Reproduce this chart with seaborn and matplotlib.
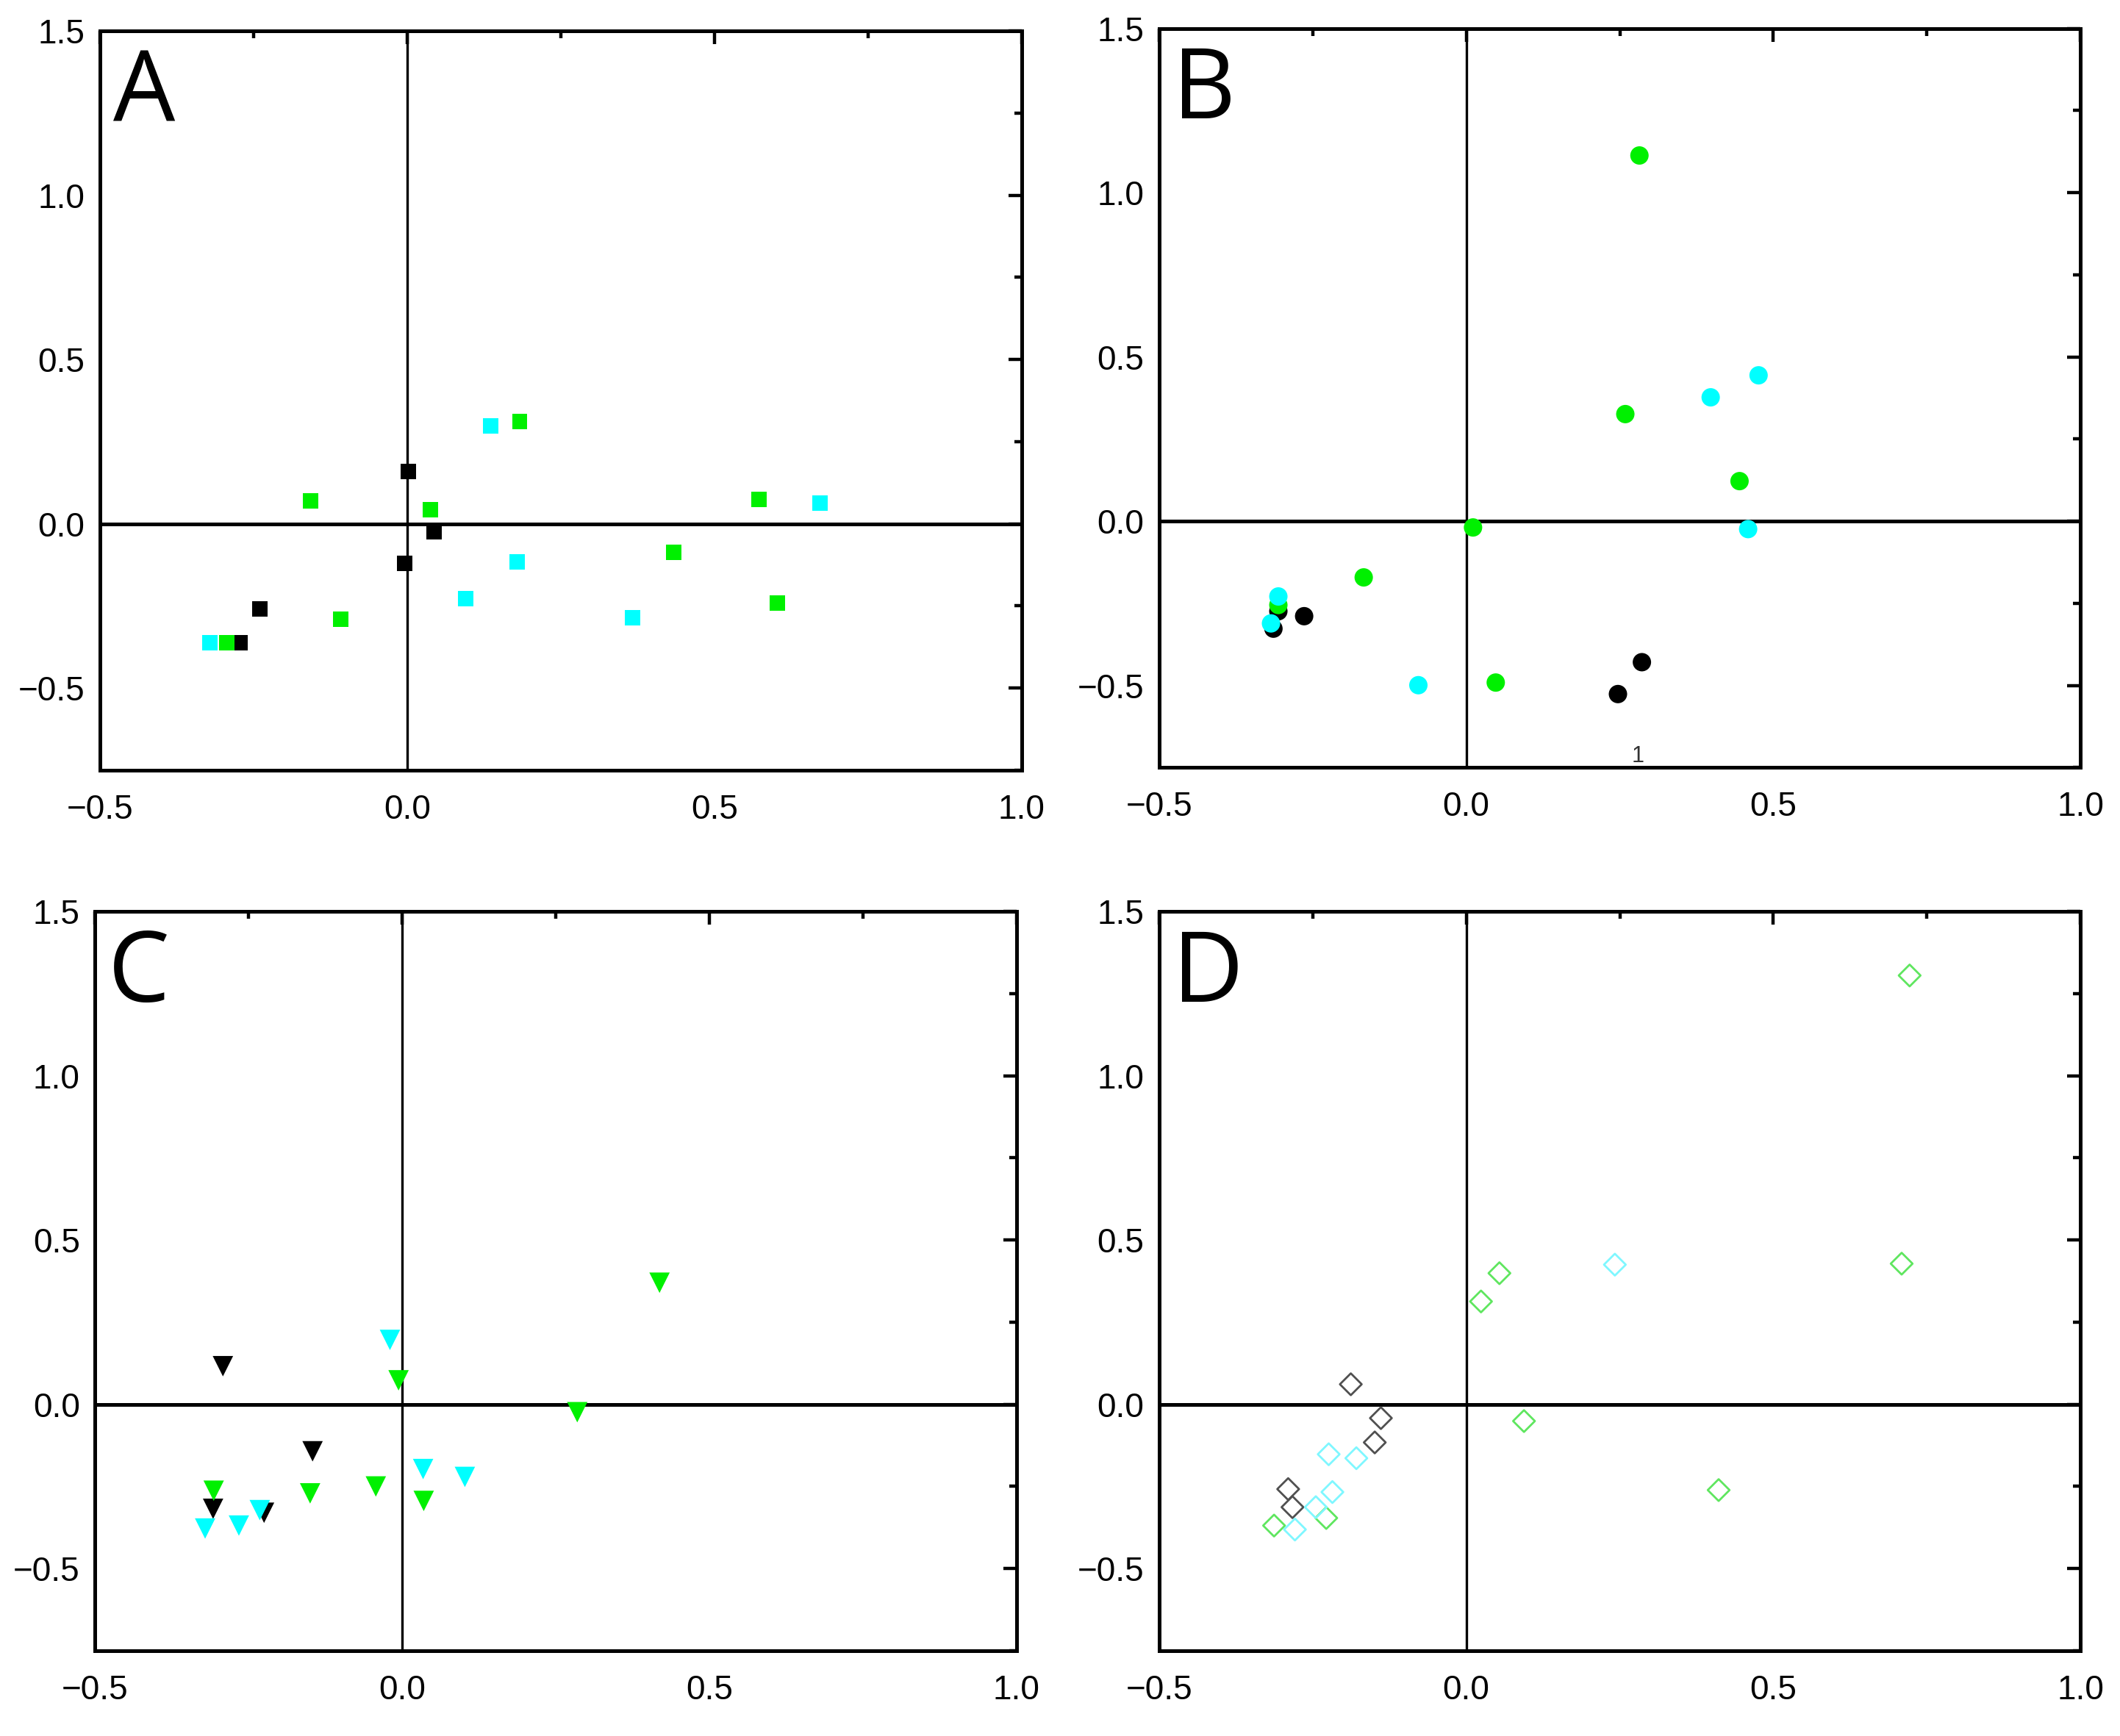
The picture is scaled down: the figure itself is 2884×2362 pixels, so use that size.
import pandas as pd
import seaborn as sns
import matplotlib.pyplot as plt
from matplotlib import font_manager
from matplotlib.ticker import MultipleLocator

# Panel A (filled squares)
a_black_x = [0.002, 0.043, -0.004, -0.240, -0.273]
a_black_y = [0.159, -0.024, -0.121, -0.260, -0.361]
a_green_x = [0.183, -0.157, 0.038, -0.108, -0.294, 0.573, 0.434, 0.603]
a_green_y = [0.312, 0.069, 0.043, -0.291, -0.361, 0.075, -0.086, -0.242]
a_cyan_x = [0.136, 0.179, 0.095, -0.321, 0.672, 0.367]
a_cyan_y = [0.298, -0.115, -0.227, -0.361, 0.063, -0.285]

# Panel B (filled circles)
b_black_x = [-0.306, -0.314, -0.264, 0.286, 0.247]
b_black_y = [-0.274, -0.327, -0.289, -0.429, -0.526]
b_green_x = [0.282, 0.259, 0.445, 0.011, -0.167, 0.048, -0.306]
b_green_y = [1.113, 0.326, 0.122, -0.019, -0.171, -0.491, -0.255]
b_cyan_x = [0.476, 0.398, 0.459, -0.306, -0.318, -0.078]
b_cyan_y = [0.444, 0.377, -0.024, -0.229, -0.311, -0.499]

# Panel C (filled down triangles)
c_black_x = [-0.292, -0.146, -0.308, -0.225]
c_black_y = [0.116, -0.143, -0.318, -0.330]
c_green_x = [0.419, -0.006, 0.285, -0.043, -0.150, 0.035, -0.307]
c_green_y = [0.370, 0.073, -0.024, -0.250, -0.271, -0.294, -0.263]
c_cyan_x = [-0.020, 0.034, 0.102, -0.232, -0.266, -0.321]
c_cyan_y = [0.196, -0.197, -0.221, -0.322, -0.369, -0.378]

# Panel D (open diamonds)
d_black_x = [-0.188, -0.139, -0.149, -0.290, -0.283]
d_black_y = [0.061, -0.042, -0.116, -0.258, -0.313]
d_green_x = [0.054, 0.024, 0.094, -0.228, -0.313, 0.411, 0.722, 0.709]
d_green_y = [0.399, 0.313, -0.051, -0.346, -0.369, -0.261, 1.305, 0.428]
d_cyan_x = [0.242, -0.224, -0.179, -0.218, -0.245, -0.279]
d_cyan_y = [0.425, -0.152, -0.164, -0.267, -0.313, -0.381]

groups = ['black', 'green', 'cyan']
filled_palette = {'black': '#000000', 'green': '#00f000', 'cyan': '#00ffff'}
open_palette = {'black': '#505050', 'green': '#5fe65f', 'cyan': '#7ff7ff'}

TICK_SIZE = 16.5


def make_df(bx, by, gx, gy, cx, cy):
    rows = []
    for grp, xs, ys in zip(groups, [bx, gx, cx], [by, gy, cy]):
        for x, y in zip(xs, ys):
            rows.append({'x': x, 'y': y, 'grp': grp})
    return pd.DataFrame.from_records(rows)


def style_axes(ax, letter, tick_font):
    ax.set_xlim(-0.5, 1.0)
    ax.set_ylim(-0.75, 1.5)
    ax.axhline(0, color='black', lw=1.8, zorder=1)
    ax.axvline(0, color='black', lw=1.2, zorder=1)
    for sp in ax.spines.values():
        sp.set_linewidth(1.8)
        sp.set_color('black')
    for axis in (ax.xaxis, ax.yaxis):
        axis.set_major_locator(MultipleLocator(0.5))
        axis.set_minor_locator(MultipleLocator(0.25))
    ax.tick_params(which='both', direction='out', width=1.6, color='black', labelcolor='black',
                   top=False, right=False, labelsize=TICK_SIZE)
    ax.tick_params(which='major', length=6.5)
    ax.tick_params(which='minor', length=3.5)
    ax.tick_params(axis='x', pad=5)
    ax.tick_params(axis='y', pad=1)

    top = ax.secondary_xaxis('top')
    right = ax.secondary_yaxis('right')
    for sec, axis in ((top, top.xaxis), (right, right.yaxis)):
        axis.set_major_locator(MultipleLocator(0.5))
        axis.set_minor_locator(MultipleLocator(0.25))
        sec.tick_params(which='both', direction='in', width=1.6, color='black',
                        labeltop=False, labelright=False, labelbottom=False, labelleft=False)
        sec.tick_params(which='major', length=6.5)
        sec.tick_params(which='minor', length=3.5)
        for sp in sec.spines.values():
            sp.set_linewidth(1.8)
            sp.set_color('black')

    ax.set_xlabel('')
    ax.set_ylabel('')
    ax.text(0.014, 0.878, letter, transform=ax.transAxes, fontsize=48, color='black',
            family=['Open Sans', 'DejaVu Sans'], ha='left', va='baseline')


def main():
    sns.set_style('white', {'text.color': 'black', 'xtick.color': 'black', 'ytick.color': 'black',
                            'axes.edgecolor': 'black'})
    names = {f.name for f in font_manager.fontManager.ttflist}
    tick_font = 'Liberation Sans Narrow' if 'Liberation Sans Narrow' in names else 'Liberation Sans'
    plt.rcParams['font.family'] = [tick_font, 'DejaVu Sans']
    plt.rcParams['axes.unicode_minus'] = True
    plt.rcParams['xtick.labelsize'] = TICK_SIZE
    plt.rcParams['ytick.labelsize'] = TICK_SIZE

    fig = plt.figure(figsize=(14.42, 11.81), dpi=200)
    ax_a = fig.add_axes([0.0473, 0.5563, 0.4345, 0.4259])
    ax_b = fig.add_axes([0.5468, 0.5578, 0.4345, 0.4259])
    ax_c = fig.add_axes([0.0449, 0.0491, 0.4345, 0.4259])
    ax_d = fig.add_axes([0.5468, 0.0491, 0.4345, 0.4259])

    df_a = make_df(a_black_x, a_black_y, a_green_x, a_green_y, a_cyan_x, a_cyan_y)
    df_b = make_df(b_black_x, b_black_y, b_green_x, b_green_y, b_cyan_x, b_cyan_y)
    df_c = make_df(c_black_x, c_black_y, c_green_x, c_green_y, c_cyan_x, c_cyan_y)
    df_d = make_df(d_black_x, d_black_y, d_green_x, d_green_y, d_cyan_x, d_cyan_y)

    sns.scatterplot(data=df_a, x='x', y='y', hue='grp', palette=filled_palette, marker='s',
                    s=57, linewidth=0, legend=False, ax=ax_a, zorder=3)
    sns.scatterplot(data=df_b, x='x', y='y', hue='grp', palette=filled_palette, marker='o',
                    s=81, linewidth=0, legend=False, ax=ax_b, zorder=3)
    sns.scatterplot(data=df_c, x='x', y='y', hue='grp', palette=filled_palette, marker='v',
                    s=100, linewidth=0, legend=False, ax=ax_c, zorder=3)
    sns.scatterplot(data=df_d, x='x', y='y', hue='grp', palette=open_palette, marker='D',
                    s=57, linewidth=1.0, legend=False, ax=ax_d, zorder=3)
    # open diamonds: move the hue colours onto the edges
    pts = ax_d.collections[-1]
    pts.set_edgecolors(pts.get_facecolors())
    pts.set_facecolors('none')

    for ax, letter in ((ax_a, 'A'), (ax_b, 'B'), (ax_c, 'C'), (ax_d, 'D')):
        style_axes(ax, letter, tick_font)

    ax_b.text(0.279, -0.748, '1', fontsize=11, ha='center', va='bottom', color='#333333')

    fig.savefig('out.png', dpi=200)


if __name__ == '__main__':
    main()
